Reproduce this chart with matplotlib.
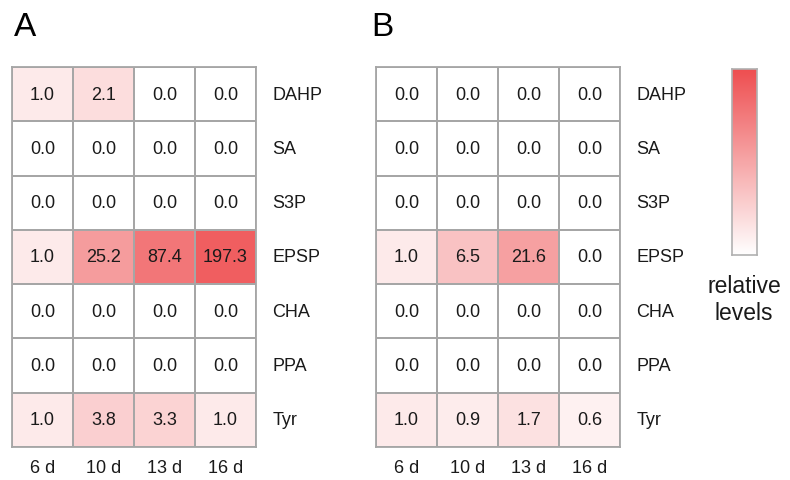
import numpy as np
import matplotlib.pyplot as plt
from matplotlib.colors import LinearSegmentedColormap

plt.rcParams["font.family"] = ["Liberation Sans", "DejaVu Sans"]

# data
metabolites = ["DAHP", "SA", "S3P", "EPSP", "CHA", "PPA", "Tyr"]
days = ["6 d", "10 d", "13 d", "16 d"]
levels_a = [
    [1.0, 2.1, 0.0, 0.0],
    [0.0, 0.0, 0.0, 0.0],
    [0.0, 0.0, 0.0, 0.0],
    [1.0, 25.2, 87.4, 197.3],
    [0.0, 0.0, 0.0, 0.0],
    [0.0, 0.0, 0.0, 0.0],
    [1.0, 3.8, 3.3, 1.0],
]
levels_b = [
    [0.0, 0.0, 0.0, 0.0],
    [0.0, 0.0, 0.0, 0.0],
    [0.0, 0.0, 0.0, 0.0],
    [1.0, 6.5, 21.6, 0.0],
    [0.0, 0.0, 0.0, 0.0],
    [0.0, 0.0, 0.0, 0.0],
    [1.0, 0.9, 1.7, 0.6],
]

cmap = LinearSegmentedColormap.from_list("wr", ["#ffffff", "#ee4e50"])
# log-like scale, top of the bar sits a bit above the largest value
vmax = np.log1p(197.3) * 1.1

W, H = 790, 481
fig = plt.figure(figsize=(W / 100, H / 100), dpi=100)


def px_axes(x0, y0, x1, y1):
    return fig.add_axes([x0 / W, 1 - y1 / H, (x1 - x0) / W, (y1 - y0) / H])


def heatmap(ax, vals, letter, letter_x):
    arr = np.array(vals)
    ax.pcolormesh(np.log1p(arr), cmap=cmap, vmin=0, vmax=vmax,
                  edgecolors="#a6a6a6", linewidth=1.3)
    ax.set_xlim(0, arr.shape[1])
    ax.set_ylim(arr.shape[0], 0)
    for i in range(arr.shape[0]):
        for j in range(arr.shape[1]):
            ax.text(j + 0.5, i + 0.5, f"{arr[i, j]:.1f}", ha="center",
                    va="center", fontsize=13, color="#1a1a1a")
    for i, name in enumerate(metabolites):
        ax.text(arr.shape[1] + 0.27, i + 0.5, name, ha="left", va="center",
                fontsize=13, color="#1a1a1a")
    for j, d in enumerate(days):
        ax.text(j + 0.5, arr.shape[0] + 0.38, d, ha="center", va="center",
                fontsize=13, color="#1a1a1a")
    for s in ax.spines.values():
        s.set_color("#a6a6a6")
        s.set_linewidth(1.3)
    ax.set_xticks([])
    ax.set_yticks([])
    fig.text(letter_x / W, 1 - 27 / H, letter, fontsize=24, ha="left",
             va="center")


ax_a = px_axes(12, 68, 256, 448)
heatmap(ax_a, levels_a, "A", 14)
ax_b = px_axes(376, 68, 620, 448)
heatmap(ax_b, levels_b, "B", 371)

# colorbar
cax = px_axes(732, 70, 757, 256)
grad = np.linspace(vmax, 0, 256).reshape(-1, 1)
cax.imshow(grad, cmap=cmap, vmin=0, vmax=vmax, aspect="auto")
cax.set_xticks([])
cax.set_yticks([])
for s in cax.spines.values():
    s.set_color("#b0b0b0")
    s.set_linewidth(1.2)
fig.text(744 / W, 1 - 300 / H, "relative\nlevels", fontsize=16.5, ha="center",
         va="center", linespacing=1.25, color="#1a1a1a")

fig.savefig("out.png", dpi=100)
